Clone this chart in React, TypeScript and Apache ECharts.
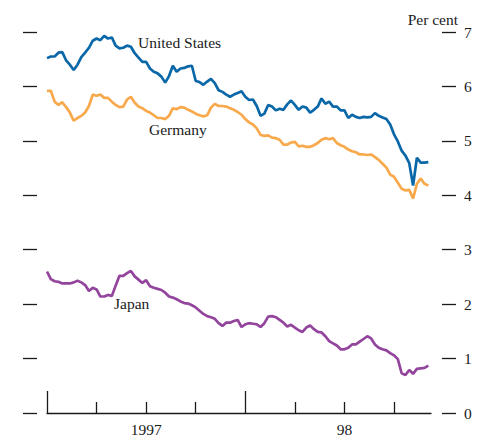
import React, { useEffect, useRef } from "react";
import * as echarts from "echarts";

// Weekly observations, week 0 = early January 1997 (10-year government bond yields, per cent)
const unitedStates = [
  6.52, 6.55, 6.55, 6.62, 6.63, 6.48, 6.40, 6.30, 6.40, 6.54,
  6.62, 6.71, 6.84, 6.88, 6.85, 6.93, 6.88, 6.90, 6.75, 6.70,
  6.71, 6.75, 6.73, 6.61, 6.53, 6.45, 6.45, 6.33, 6.27, 6.24,
  6.18, 6.07, 6.19, 6.38, 6.27, 6.33, 6.34, 6.37, 6.38, 6.10,
  6.08, 6.03, 6.09, 6.14, 6.06, 5.93, 5.90, 5.85, 5.81, 5.85,
  5.88, 5.91, 5.81, 5.75, 5.76, 5.64, 5.46, 5.50, 5.66, 5.63,
  5.56, 5.59, 5.57, 5.67, 5.74, 5.66, 5.57, 5.63, 5.61, 5.52,
  5.57, 5.63, 5.78, 5.68, 5.72, 5.63, 5.63, 5.56, 5.56, 5.42,
  5.48, 5.44, 5.42, 5.44, 5.43, 5.44, 5.51, 5.46, 5.43, 5.40,
  5.30, 5.12, 4.99, 4.82, 4.73, 4.59, 4.18, 4.69, 4.60, 4.60,
  4.61,
];

const germany = [
  5.92, 5.92, 5.72, 5.66, 5.71, 5.62, 5.52, 5.37, 5.42, 5.46,
  5.52, 5.64, 5.85, 5.83, 5.85, 5.79, 5.79, 5.72, 5.66, 5.62,
  5.63, 5.76, 5.81, 5.70, 5.63, 5.60, 5.55, 5.52, 5.47, 5.42,
  5.42, 5.40, 5.46, 5.60, 5.58, 5.62, 5.61, 5.57, 5.54, 5.50,
  5.47, 5.45, 5.47, 5.61, 5.68, 5.64, 5.64, 5.63, 5.60, 5.57,
  5.53, 5.48, 5.40, 5.34, 5.30, 5.23, 5.11, 5.09, 5.10, 5.06,
  5.05, 5.02, 4.93, 4.93, 4.97, 4.98, 4.90, 4.91, 4.89, 4.89,
  4.92, 4.96, 5.02, 5.05, 5.03, 5.05, 4.96, 4.92, 4.89, 4.84,
  4.81, 4.79, 4.75, 4.75, 4.74, 4.75, 4.70, 4.65, 4.58, 4.51,
  4.38, 4.34, 4.23, 4.12, 4.09, 4.10, 3.94, 4.21, 4.31, 4.21,
  4.18,
];

const japan = [
  2.60, 2.46, 2.42, 2.41, 2.38, 2.38, 2.38, 2.40, 2.43, 2.40,
  2.35, 2.24, 2.30, 2.27, 2.14, 2.14, 2.17, 2.15, 2.34, 2.52,
  2.52, 2.57, 2.61, 2.51, 2.45, 2.39, 2.44, 2.33, 2.30, 2.28,
  2.26, 2.21, 2.14, 2.12, 2.09, 2.05, 2.02, 2.01, 1.98, 1.94,
  1.88, 1.82, 1.78, 1.76, 1.73, 1.65, 1.60, 1.66, 1.66, 1.69,
  1.71, 1.58, 1.63, 1.65, 1.64, 1.63, 1.58, 1.65, 1.77, 1.78,
  1.76, 1.71, 1.66, 1.59, 1.62, 1.57, 1.52, 1.49, 1.57, 1.61,
  1.54, 1.49, 1.48, 1.41, 1.32, 1.28, 1.24, 1.17, 1.17, 1.20,
  1.26, 1.26, 1.31, 1.36, 1.41, 1.37, 1.26, 1.20, 1.17, 1.15,
  1.10, 1.06, 0.99, 0.73, 0.70, 0.79, 0.72, 0.81, 0.82, 0.83,
  0.87,
];

const quarterTicks = [13, 26, 39, 65, 78, 91];
const yearTicks = [0, 52];
const yearLabelPos = [26, 78];
const yearLabels = ["1997", "98"];
const seriesNames = ["United States", "Germany", "Japan"];

const FONT = "'Liberation Serif', 'Times New Roman', serif";
const INK = "#1a1a1a";

export default function App() {
  const ref = useRef<HTMLDivElement>(null);

  useEffect(() => {
    if (!ref.current) return;
    const chart = echarts.init(ref.current, undefined, { renderer: "svg" });
    const toPairs = (arr: number[]) => arr.map((v, i) => [i, v]);
    const xMax = 100.7;

    const yAxisBase = {
      type: "value",
      min: 0,
      max: 7,
      interval: 1,
      axisLine: { show: false, onZero: false },
      axisTick: {
        show: true,
        inside: false,
        length: 14,
        lineStyle: { color: INK, width: 1.3 },
      },
      splitLine: { show: false },
    };

    chart.setOption({
      animation: false,
      backgroundColor: "#ffffff",
      grid: { left: 47, right: 47, top: 32, bottom: 23, containLabel: false },
      xAxis: [
        {
          type: "value",
          min: 0,
          max: xMax,
          position: "bottom",
          axisLine: { show: true, onZero: false, lineStyle: { color: INK, width: 1.3 } },
          axisTick: {
            show: true,
            inside: true,
            length: 11,
            customValues: quarterTicks,
            lineStyle: { color: INK, width: 1.3 },
          },
          axisLabel: {
            show: true,
            customValues: yearLabelPos,
            margin: 8,
            color: INK,
            fontFamily: FONT,
            fontSize: 15.5,
            formatter: (v: number) => {
              const idx = yearLabelPos.indexOf(Math.round(v));
              return idx >= 0 ? yearLabels[idx] : "";
            },
          },
          splitLine: { show: false },
        },
        {
          type: "value",
          min: 0,
          max: xMax,
          position: "bottom",
          axisLine: { show: false, onZero: false },
          axisTick: {
            show: true,
            inside: true,
            length: 22,
            customValues: yearTicks,
            lineStyle: { color: INK, width: 1.3 },
          },
          axisLabel: { show: false },
          splitLine: { show: false },
        },
      ],
      yAxis: [
        {
          ...yAxisBase,
          position: "left",
          offset: 10,
          axisLabel: { show: false },
        },
        {
          ...yAxisBase,
          position: "right",
          offset: 11,
          axisLabel: {
            show: true,
            margin: 22,
            color: INK,
            fontFamily: FONT,
            fontSize: 15.5,
          },
        },
      ],
      series: [
        {
          name: seriesNames[0],
          type: "line",
          data: toPairs(unitedStates),
          showSymbol: false,
          lineStyle: { color: "#0a67a8", width: 2.7 },
          itemStyle: { color: "#0a67a8" },
        },
        {
          name: seriesNames[1],
          type: "line",
          data: toPairs(germany),
          showSymbol: false,
          lineStyle: { color: "#f8a94c", width: 2.7 },
          itemStyle: { color: "#f8a94c" },
        },
        {
          name: seriesNames[2],
          type: "line",
          data: toPairs(japan),
          showSymbol: false,
          lineStyle: { color: "#93459d", width: 2.7 },
          itemStyle: { color: "#93459d" },
        },
      ],
      graphic: [
        {
          type: "text",
          right: 20,
          top: 11,
          style: { text: "Per cent", fill: INK, font: `15.5px ${FONT}` },
        },
        {
          type: "text",
          left: 138,
          top: 34,
          style: { text: seriesNames[0], fill: INK, font: `15.5px ${FONT}` },
        },
        {
          type: "text",
          left: 149,
          top: 121,
          style: { text: seriesNames[1], fill: INK, font: `15.5px ${FONT}` },
        },
        {
          type: "text",
          left: 114,
          top: 295,
          style: { text: seriesNames[2], fill: INK, font: `15.5px ${FONT}` },
        },
      ],
    });

    return () => chart.dispose();
  }, []);

  return (
    <div
      ref={ref}
      style={{ position: "absolute", left: 0, top: 0, width: 478, height: 437 }}
    />
  );
}
